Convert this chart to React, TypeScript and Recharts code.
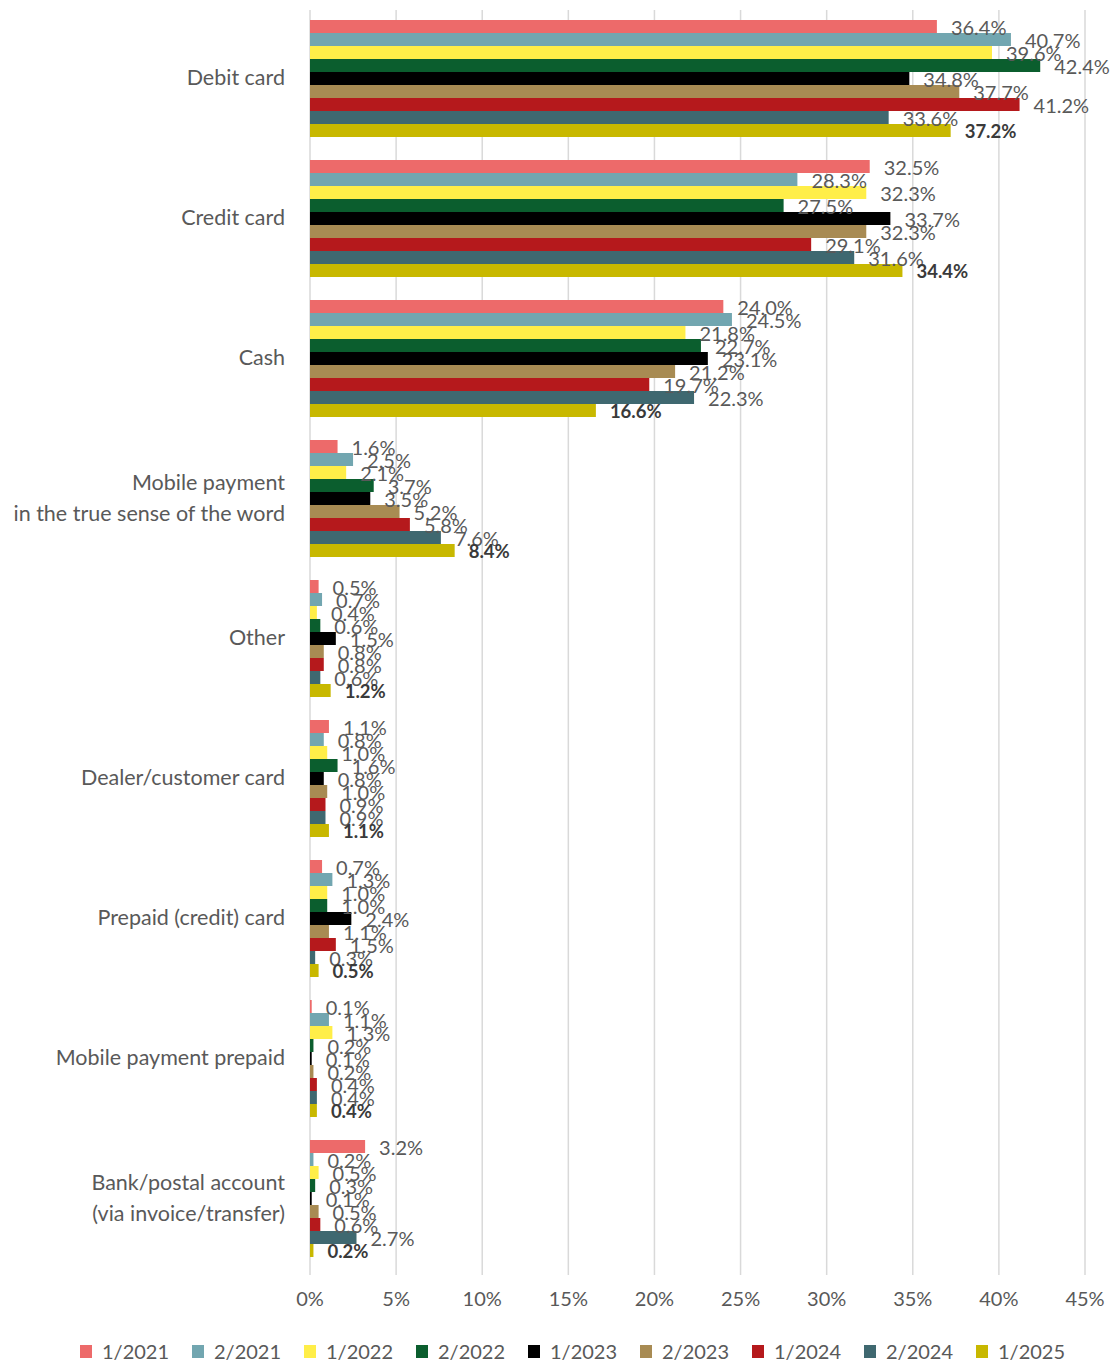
import React from 'react';
import { BarChart, Bar, XAxis, YAxis, CartesianGrid, Legend, LabelList } from 'recharts';

const categories = [
  'Debit card',
  'Credit card',
  'Cash',
  'Mobile payment\nin the true sense of the word',
  'Other',
  'Dealer/customer card',
  'Prepaid (credit) card',
  'Mobile payment prepaid',
  'Bank/postal account\n(via invoice/transfer)',
];

const s2021h1 = [36.4, 32.5, 24.0, 1.6, 0.5, 1.1, 0.7, 0.1, 3.2];
const s2021h2 = [40.7, 28.3, 24.5, 2.5, 0.7, 0.8, 1.3, 1.1, 0.2];
const s2022h1 = [39.6, 32.3, 21.8, 2.1, 0.4, 1.0, 1.0, 1.3, 0.5];
const s2022h2 = [42.4, 27.5, 22.7, 3.7, 0.6, 1.6, 1.0, 0.2, 0.3];
const s2023h1 = [34.8, 33.7, 23.1, 3.5, 1.5, 0.8, 2.4, 0.1, 0.1];
const s2023h2 = [37.7, 32.3, 21.2, 5.2, 0.8, 1.0, 1.1, 0.2, 0.5];
const s2024h1 = [41.2, 29.1, 19.7, 5.8, 0.8, 0.9, 1.5, 0.4, 0.6];
const s2024h2 = [33.6, 31.6, 22.3, 7.6, 0.6, 0.9, 0.3, 0.4, 2.7];
const s2025h1 = [37.2, 34.4, 16.6, 8.4, 1.2, 1.1, 0.5, 0.4, 0.2];

const xTicks = [0, 5, 10, 15, 20, 25, 30, 35, 40, 45];

const series = [
  { key: '1/2021', values: s2021h1, color: '#ED6A6A' },
  { key: '2/2021', values: s2021h2, color: '#72A6B0' },
  { key: '1/2022', values: s2022h1, color: '#FFEE48' },
  { key: '2/2022', values: s2022h2, color: '#0B5E2E' },
  { key: '1/2023', values: s2023h1, color: '#000000' },
  { key: '2/2023', values: s2023h2, color: '#A88B53' },
  { key: '1/2024', values: s2024h1, color: '#B5191C' },
  { key: '2/2024', values: s2024h2, color: '#3F6870' },
  { key: '1/2025', values: s2025h1, color: '#C8B800' },
];

const data = categories.map((name, i) => {
  const row: Record<string, any> = { name };
  series.forEach((s) => {
    row[s.key] = s.values[i];
  });
  return row;
});

const FONT = 'Lato, "Open Sans", sans-serif';
const GREY = '#595959';

const CategoryTick = (props: any) => {
  const { x, y, payload } = props;
  const lines = String(payload.value).split('\n');
  const lh = 31;
  const start = -((lines.length - 1) * lh) / 2 - 3;
  return (
    <text x={x} y={y} textAnchor="end" fill={GREY} fontSize={21.5} fontFamily={FONT}>
      {lines.map((l, i) => (
        <tspan key={i} x={x} y={y + start + i * lh} dominantBaseline="central">
          {l}
        </tspan>
      ))}
    </text>
  );
};

const makeLabel = (bold: boolean) => (props: any) => {
  const { x, y, width, height, value } = props;
  return (
    <text
      x={x + width + 14}
      y={y + height / 2}
      fill={bold ? '#3a3a3a' : GREY}
      fontSize={bold ? 18.5 : 20}
      fontWeight={bold ? 700 : 400}
      fontFamily={FONT}
      dominantBaseline="central"
    >
      {Number(value).toFixed(1)}%
    </text>
  );
};

const LegendContent = () => (
  <div
    style={{
      display: 'flex',
      justifyContent: 'flex-start',
      alignItems: 'center',
      height: 36,
      fontFamily: FONT,
      fontSize: 20,
      color: GREY,
      paddingLeft: 80,
      paddingTop: 10,
      boxSizing: 'border-box',
    }}
  >
    {series.map((s) => (
      <div key={s.key} style={{ display: 'flex', alignItems: 'center', width: 112 }}>
        <span style={{ display: 'inline-block', width: 12, height: 13, background: s.color, marginRight: 10 }} />
        <span>{s.key}</span>
      </div>
    ))}
  </div>
);

export default function App() {
  return (
    <div style={{ position: 'absolute', left: 0, top: 0, width: 1111, height: 1364, background: '#fff' }}>
      <BarChart
        width={1111}
        height={1364}
        data={data}
        layout="vertical"
        margin={{ top: 10, right: 26, bottom: 0, left: 0 }}
        barCategoryGap={10}
        barGap={0}
      >
        <CartesianGrid horizontal={false} vertical stroke="#D9D9D9" strokeWidth={1.5} />
        <XAxis
          type="number"
          domain={[0, 45]}
          ticks={xTicks}
          tickFormatter={(v) => `${v}%`}
          axisLine={false}
          tickLine={{ stroke: '#D9D9D9', strokeWidth: 1.5 }}
          tickSize={5}
          tickMargin={17}
          height={58}
          tick={{ fill: GREY, fontSize: 20, fontFamily: FONT }}
          interval={0}
        />
        <YAxis
          type="category"
          dataKey="name"
          width={310}
          axisLine={false}
          tickLine={false}
          tickMargin={19}
          tick={<CategoryTick />}
          interval={0}
        />
        <Legend verticalAlign="bottom" height={36} content={<LegendContent />} wrapperStyle={{ left: 0, width: 1111 }} />
        {series.map((s, i) => (
          <Bar key={s.key} dataKey={s.key} fill={s.color} isAnimationActive={false}>
            <LabelList dataKey={s.key} content={makeLabel(i === series.length - 1)} />
          </Bar>
        ))}
      </BarChart>
    </div>
  );
}
